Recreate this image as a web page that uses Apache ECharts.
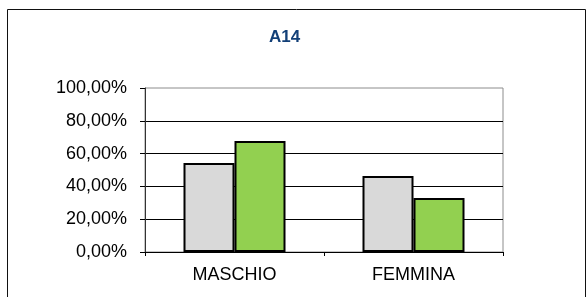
<!DOCTYPE html>
<html>
<head>
<meta charset="utf-8">
<script src="https://cdn.jsdelivr.net/npm/echarts@6/dist/echarts.min.js"></script>
<style>
  html, body { margin: 0; padding: 0; background: #fff; }
  #a14 { width: 587px; height: 297px; }
</style>
</head>
<body>
<div id="a14"></div>
<script>
// dati
const categorie = ['MASCHIO', 'FEMMINA'];
const serieGrigia = [54.2, 46.3];
const serieVerde = [67.7, 33.0];
const tickY = [0, 20, 40, 60, 80, 100];

const chart = echarts.init(document.getElementById('a14'));
const font = '"Liberation Sans", Arial, sans-serif';

const option = {
  backgroundColor: '#fff',
  animation: false,
  textStyle: { fontFamily: font },
  title: {
    text: 'A14',
    left: 269,
    top: 29,
    padding: 0,
    textStyle: { fontSize: 17, fontWeight: 'bold', color: '#123F77', fontFamily: font },
  },
  // cornice esterna
  graphic: [
    {
      type: 'rect',
      shape: { x: 7.5, y: 9.5, width: 578, height: 320 },
      style: { fill: 'none', stroke: '#111', lineWidth: 1 },
      silent: true,
    },
  ],
  grid: {
    left: 145,
    right: 84,
    top: 88,
    bottom: 45,
    show: true,
    borderColor: '#8c8c8c',
    borderWidth: 1,
    backgroundColor: 'transparent',
  },
  xAxis: {
    type: 'category',
    data: categorie,
    axisLine: { lineStyle: { color: '#000', width: 1 } },
    axisTick: { show: true, length: 4, lineStyle: { color: '#000' } },
    axisLabel: { fontSize: 18, color: '#000', margin: 14, fontFamily: font },
    splitLine: { show: false },
  },
  yAxis: {
    type: 'value',
    min: tickY[0],
    max: tickY[tickY.length - 1],
    interval: 20,
    axisLine: { show: true, lineStyle: { color: '#333', width: 1 } },
    axisTick: { show: true, length: 5, lineStyle: { color: '#000' } },
    axisLabel: {
      fontSize: 18,
      color: '#000',
      margin: 18,
      fontFamily: font,
      formatter: function (v) {
        return v.toFixed(2).replace('.', ',') + '%';
      },
    },
    splitLine: {
      show: true,
      showMinLine: false,
      showMaxLine: false,
      lineStyle: { color: '#000', width: 1 },
    },
  },
  series: [
    {
      name: 'grigio',
      type: 'bar',
      data: serieGrigia,
      barWidth: 51,
      barGap: '0%',
      itemStyle: { color: '#D9D9D9', borderColor: '#000', borderWidth: 2 },
    },
    {
      name: 'verde',
      type: 'bar',
      data: serieVerde,
      barWidth: 51,
      barGap: '0%',
      itemStyle: { color: '#92D050', borderColor: '#000', borderWidth: 2 },
    },
  ],
};

chart.setOption(option);
</script>
</body>
</html>
